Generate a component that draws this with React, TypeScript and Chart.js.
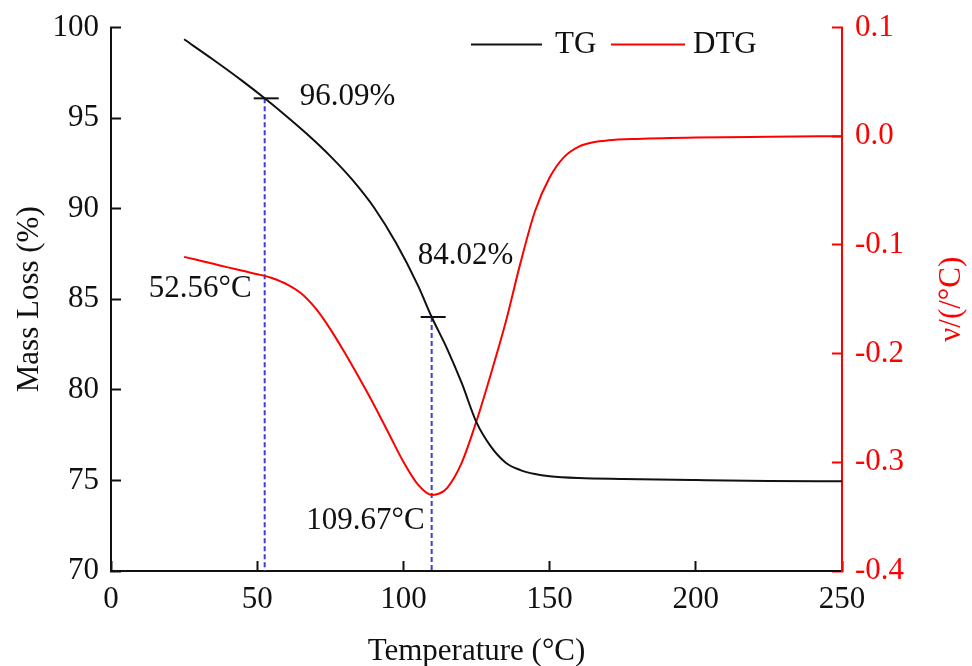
import { useEffect, useRef } from "react";
import { Chart, registerables } from "chart.js";

Chart.register(...registerables);

// TG curve: temperature (°C) vs remaining mass (%)
const tgTemp = [25, 35, 45, 52.56, 60, 67.5, 75, 82.5, 90, 97.5, 105, 109.67, 115, 120, 125, 130, 135, 140, 145, 150, 160, 175, 200, 225, 250];
const tgMass = [99.35, 98.22, 97.04, 96.09, 95.1, 94.05, 92.9, 91.6, 90.05, 88.1, 85.75, 84.02, 82.25, 80.35, 78.2, 76.85, 75.98, 75.57, 75.35, 75.23, 75.13, 75.08, 75.02, 74.97, 74.95];

// DTG curve: temperature (°C) vs mass-loss rate (%/°C)
const dtgTemp = [25, 30, 35, 40, 45, 50, 52.56, 55, 60, 65, 70, 75, 80, 85, 90, 95, 100, 105, 109.67, 112.5, 115, 120, 125, 130, 135, 140, 145, 150, 155, 160, 165, 170, 180, 200, 225, 250];
const dtgRate = [-0.111, -0.1142, -0.1174, -0.1207, -0.1238, -0.127, -0.1285, -0.1305, -0.136, -0.1445, -0.1585, -0.1775, -0.1995, -0.223, -0.2475, -0.2735, -0.2995, -0.3205, -0.33, -0.3285, -0.3235, -0.3, -0.262, -0.218, -0.171, -0.117, -0.069, -0.038, -0.019, -0.0095, -0.0055, -0.0038, -0.0025, -0.0012, -0.0005, 0.0];

// Axis ranges and tick steps
const xRange = [0, 250, 50];
const massRange = [70, 100, 5];
const rateRange = [-0.4, 0.1, 0.1];

// Marked characteristic points
const markTemps = [52.56, 109.67];
const markMass = [96.09, 84.02];
const markMassLabels = ["96.09%", "84.02%"];
const markTempLabels = ["52.56°C", "109.67°C"];

const seriesNames = ["TG", "DTG"];
const FONT = '"Liberation Serif", "Times New Roman", serif';
const RED = "#ff0000";

const overlay = {
  id: "tgOverlay",
  beforeDatasetsDraw(chart: any) {
    const { ctx, chartArea, scales } = chart;
    ctx.save();
    ctx.strokeStyle = "#3a3ae6";
    ctx.lineWidth = 2;
    ctx.setLineDash([5, 3]);
    markTemps.forEach((t, i) => {
      const px = scales.x.getPixelForValue(t);
      const py = scales.y.getPixelForValue(markMass[i]);
      ctx.beginPath();
      ctx.moveTo(px, py);
      ctx.lineTo(px, chartArea.bottom);
      ctx.stroke();
    });
    ctx.restore();
  },
  afterDatasetsDraw(chart: any) {
    const { ctx, chartArea, scales } = chart;
    ctx.save();
    ctx.font = `31px ${FONT}`;
    ctx.fillStyle = "#111";
    ctx.textBaseline = "alphabetic";

    // short horizontal markers on TG
    ctx.strokeStyle = "#111";
    ctx.lineWidth = 2;
    markTemps.forEach((t, i) => {
      const px = scales.x.getPixelForValue(t);
      const py = scales.y.getPixelForValue(markMass[i]);
      ctx.beginPath();
      ctx.moveTo(px - 11, py);
      ctx.lineTo(px + 14, py);
      ctx.stroke();
    });

    // mass labels
    {
      const px = scales.x.getPixelForValue(markTemps[0]);
      const py = scales.y.getPixelForValue(markMass[0]);
      ctx.textAlign = "left";
      ctx.fillText(markMassLabels[0], px + 35, py + 7);
    }
    {
      const px = scales.x.getPixelForValue(markTemps[1]);
      const py = scales.y.getPixelForValue(markMass[1]);
      ctx.textAlign = "left";
      ctx.fillText(markMassLabels[1], px - 14, py - 53);
    }

    // temperature labels near DTG
    const rateAt = (t: number) => dtgRate[dtgTemp.indexOf(t)];
    {
      const px = scales.x.getPixelForValue(markTemps[0]);
      const py = scales.y1.getPixelForValue(rateAt(markTemps[0]));
      ctx.textAlign = "right";
      ctx.fillText(markTempLabels[0], px - 13, py + 21);
    }
    {
      const px = scales.x.getPixelForValue(markTemps[1]);
      const py = scales.y1.getPixelForValue(rateAt(markTemps[1]));
      ctx.textAlign = "right";
      ctx.fillText(markTempLabels[1], px - 7, py + 34);
    }

    // legend
    const ly = chartArea.top + 17;
    const lx = chartArea.left + 360;
    ctx.lineWidth = 2;
    ctx.strokeStyle = "#111";
    ctx.beginPath();
    ctx.moveTo(lx, ly);
    ctx.lineTo(lx + 71, ly);
    ctx.stroke();
    ctx.textAlign = "left";
    ctx.textBaseline = "middle";
    ctx.fillStyle = "#111";
    ctx.fillText(seriesNames[0], lx + 84, ly);
    ctx.strokeStyle = RED;
    ctx.beginPath();
    ctx.moveTo(lx + 140, ly);
    ctx.lineTo(lx + 214, ly);
    ctx.stroke();
    ctx.fillText(seriesNames[1], lx + 222, ly);
    ctx.restore();
  },
  afterDraw(chart: any) {
    const { ctx, chartArea } = chart;
    ctx.save();
    ctx.font = `31px ${FONT}`;
    ctx.fillStyle = RED;
    ctx.textAlign = "center";
    ctx.textBaseline = "middle";
    ctx.translate(chartArea.right + 110, (chartArea.top + chartArea.bottom) / 2);
    ctx.rotate(-Math.PI / 2);
    ctx.fillText("ν/(/°C)", 0, 0);
    ctx.restore();
  },
};

export default function App() {
  const canvasRef = useRef<HTMLCanvasElement | null>(null);

  useEffect(() => {
    const canvas = canvasRef.current;
    if (!canvas) return;
    const tickFont = { family: FONT, size: 31 };
    const chart = new Chart(canvas, {
      type: "line",
      data: {
        datasets: [
          {
            label: seriesNames[0],
            data: tgTemp.map((t, i) => ({ x: t, y: tgMass[i] })),
            borderColor: "#111",
            borderWidth: 2,
            pointRadius: 0,
            cubicInterpolationMode: "monotone",
            yAxisID: "y",
          },
          {
            label: seriesNames[1],
            data: dtgTemp.map((t, i) => ({ x: t, y: dtgRate[i] })),
            borderColor: RED,
            borderWidth: 2,
            pointRadius: 0,
            cubicInterpolationMode: "monotone",
            yAxisID: "y1",
          },
        ],
      },
      options: {
        animation: false,
        responsive: true,
        maintainAspectRatio: false,
        layout: { padding: { top: 27.5, left: 0, right: 0, bottom: 0 } },
        plugins: { legend: { display: false }, tooltip: { enabled: false } },
        scales: {
          x: {
            type: "linear",
            position: "bottom",
            min: xRange[0],
            max: xRange[1],
            ticks: { stepSize: xRange[2], font: tickFont, color: "#111", padding: 20, maxRotation: 0 },
            grid: { drawOnChartArea: false, tickLength: -10, tickWidth: 2, color: "#111" },
            border: { display: true, color: "#111", width: 2 },
            title: { display: true, text: "Temperature (°C)", font: tickFont, color: "#111", padding: { top: 0, bottom: -4 } },
            afterFit: (s: any) => {
              s.height = 95;
              s.paddingLeft = 0;
              s.paddingRight = 0;
            },
          },
          y: {
            type: "linear",
            position: "left",
            min: massRange[0],
            max: massRange[1],
            ticks: { stepSize: massRange[2], font: tickFont, color: "#111", padding: 22 },
            grid: { drawOnChartArea: false, tickLength: -10, tickWidth: 2, color: "#111" },
            border: { display: true, color: "#111", width: 2 },
            title: { display: true, text: "Mass Loss (%)", font: tickFont, color: "#111", padding: { top: 11, bottom: 0 } },
            afterFit: (s: any) => {
              s.width = 111;
              s.paddingTop = 0;
              s.paddingBottom = 0;
            },
          },
          y1: {
            type: "linear",
            position: "right",
            min: rateRange[0],
            max: rateRange[1],
            ticks: {
              stepSize: rateRange[2],
              font: tickFont,
              color: RED,
              padding: 23,
              callback: (v: any) => Number(v).toFixed(1),
            },
            grid: { drawOnChartArea: false, tickLength: -10, tickWidth: 2, color: RED },
            border: { display: true, color: RED, width: 2 },
            afterFit: (s: any) => {
              s.width = 130;
              s.paddingTop = 0;
              s.paddingBottom = 0;
            },
          },
        },
      },
      plugins: [overlay],
    } as any);
    return () => chart.destroy();
  }, []);

  return (
    <div style={{ position: "fixed", left: 0, top: 0, width: 972, height: 666, background: "#fff" }}>
      <canvas ref={canvasRef} />
    </div>
  );
}
